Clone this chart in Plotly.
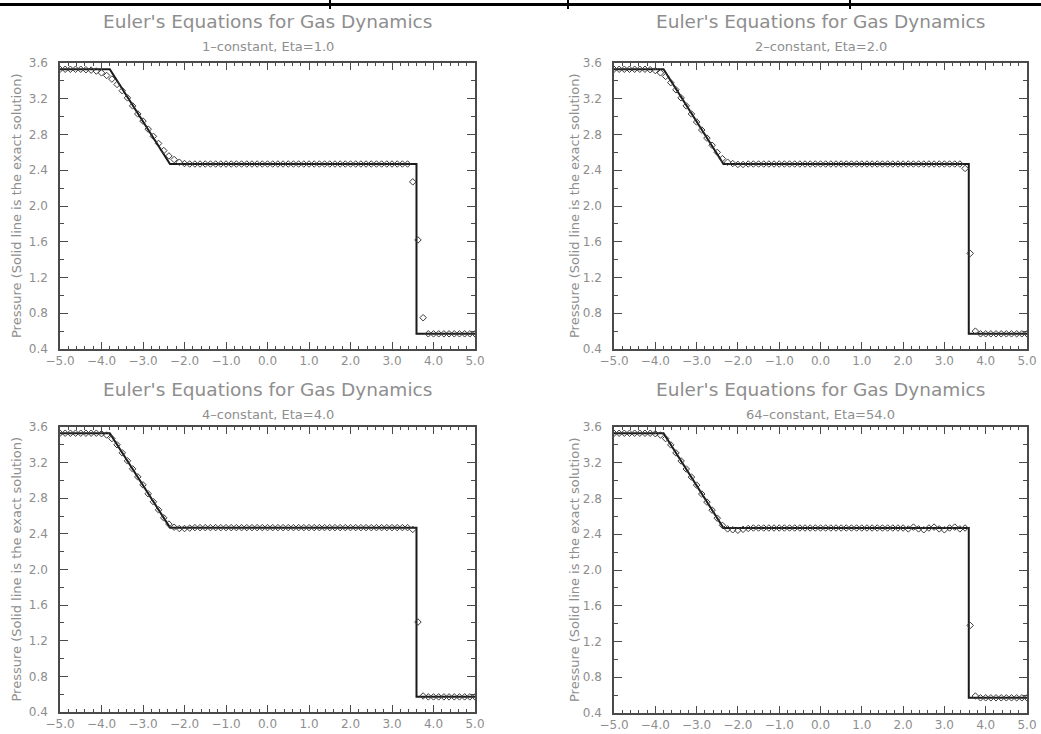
import plotly.graph_objects as go

W, H = 1041, 734

# ---------------- data ----------------
GRID_X = [-5.0, -4.875, -4.75, -4.625, -4.5, -4.375, -4.25, -4.125, -4.0, -3.875,
          -3.75, -3.625, -3.5, -3.375, -3.25, -3.125, -3.0, -2.875, -2.75, -2.625,
          -2.5, -2.375, -2.25, -2.125, -2.0, -1.875, -1.75, -1.625, -1.5, -1.375,
          -1.25, -1.125, -1.0, -0.875, -0.75, -0.625, -0.5, -0.375, -0.25, -0.125,
          0.0, 0.125, 0.25, 0.375, 0.5, 0.625, 0.75, 0.875, 1.0, 1.125,
          1.25, 1.375, 1.5, 1.625, 1.75, 1.875, 2.0, 2.125, 2.25, 2.375,
          2.5, 2.625, 2.75, 2.875, 3.0, 3.125, 3.25, 3.375, 3.5, 3.625,
          3.75, 3.875, 4.0, 4.125, 4.25, 4.375, 4.5, 4.625, 4.75, 4.875, 5.0]

P_ETA1 = [3.53, 3.53, 3.53, 3.53, 3.53, 3.525, 3.52, 3.51, 3.49, 3.46,
          3.42, 3.36, 3.29, 3.21, 3.12, 3.03, 2.95, 2.86, 2.78, 2.70,
          2.62, 2.56, 2.52, 2.49, 2.475, 2.47, 2.47, 2.47, 2.47, 2.47,
          2.47, 2.47, 2.47, 2.47, 2.47, 2.47, 2.47, 2.47, 2.47, 2.47,
          2.47, 2.47, 2.47, 2.47, 2.47, 2.47, 2.47, 2.47, 2.47, 2.47,
          2.47, 2.47, 2.47, 2.47, 2.47, 2.47, 2.47, 2.47, 2.47, 2.47,
          2.47, 2.47, 2.47, 2.47, 2.47, 2.47, 2.47, 2.47, 2.27, 1.62,
          0.75, 0.57, 0.57, 0.57, 0.57, 0.57, 0.57, 0.57, 0.57, 0.57, 0.57]

P_ETA2 = [3.53, 3.53, 3.53, 3.53, 3.53, 3.53, 3.53, 3.525, 3.515, 3.49,
          3.45, 3.38, 3.30, 3.21, 3.12, 3.03, 2.94, 2.85, 2.76, 2.68,
          2.60, 2.53, 2.49, 2.475, 2.465, 2.465, 2.47, 2.47, 2.47, 2.47,
          2.47, 2.47, 2.47, 2.47, 2.47, 2.47, 2.47, 2.47, 2.47, 2.47,
          2.47, 2.47, 2.47, 2.47, 2.47, 2.47, 2.47, 2.47, 2.47, 2.47,
          2.47, 2.47, 2.47, 2.47, 2.47, 2.47, 2.47, 2.47, 2.47, 2.47,
          2.47, 2.47, 2.47, 2.47, 2.47, 2.47, 2.47, 2.47, 2.42, 1.47,
          0.60, 0.57, 0.57, 0.57, 0.57, 0.57, 0.57, 0.57, 0.57, 0.57, 0.57]

P_ETA4 = [3.53, 3.53, 3.53, 3.53, 3.53, 3.53, 3.53, 3.53, 3.525, 3.51,
          3.47, 3.40, 3.31, 3.22, 3.13, 3.04, 2.95, 2.85, 2.76, 2.67,
          2.58, 2.51, 2.475, 2.46, 2.46, 2.465, 2.47, 2.47, 2.47, 2.47,
          2.47, 2.47, 2.47, 2.47, 2.47, 2.47, 2.47, 2.47, 2.47, 2.47,
          2.47, 2.47, 2.47, 2.47, 2.47, 2.47, 2.47, 2.47, 2.47, 2.47,
          2.47, 2.47, 2.47, 2.47, 2.47, 2.47, 2.47, 2.47, 2.47, 2.47,
          2.47, 2.47, 2.47, 2.47, 2.47, 2.47, 2.47, 2.47, 2.45, 1.41,
          0.58, 0.57, 0.57, 0.57, 0.57, 0.57, 0.57, 0.57, 0.57, 0.57, 0.57]

P_ETA54 = [3.53, 3.53, 3.53, 3.53, 3.53, 3.53, 3.53, 3.53, 3.525, 3.51,
           3.47, 3.40, 3.31, 3.22, 3.13, 3.04, 2.95, 2.85, 2.76, 2.67,
           2.58, 2.50, 2.46, 2.45, 2.445, 2.455, 2.465, 2.47, 2.47, 2.47,
           2.47, 2.47, 2.47, 2.47, 2.47, 2.47, 2.47, 2.47, 2.47, 2.47,
           2.47, 2.47, 2.47, 2.47, 2.47, 2.47, 2.47, 2.47, 2.47, 2.47,
           2.47, 2.47, 2.47, 2.47, 2.47, 2.47, 2.47, 2.46, 2.48, 2.46,
           2.45, 2.47, 2.48, 2.46, 2.45, 2.47, 2.48, 2.46, 2.47, 1.38,
           0.59, 0.57, 0.57, 0.57, 0.57, 0.57, 0.57, 0.57, 0.57, 0.57, 0.57]

EXACT_X = [-5.0, -3.8, -2.35, 3.59, 3.59, 5.0]
EXACT_P = [3.53, 3.53, 2.47, 2.47, 0.57, 0.57]

SUBTITLES = ["1\u2013constant, Eta=1.0", "2\u2013constant, Eta=2.0",
             "4\u2013constant, Eta=4.0", "64\u2013constant, Eta=54.0"]
SERIES = [P_ETA1, P_ETA2, P_ETA4, P_ETA54]
MAIN_TITLE = "Euler's Equations for Gas Dynamics"
Y_TITLE = "Pressure (Solid line is the exact solution)"
X_RANGE = [-5.0, 5.0]
Y_RANGE = [0.4, 3.6]

# ---------------- layout (pixel boxes) ----------------
# (left, right, top, bottom) in pixels
BOXES = [(60, 475, 63, 349), (614, 1027, 63, 349),
         (60, 475, 427, 712), (614, 1027, 427, 713)]
TITLE_Y = [21, 21, 389, 389]
SUB_Y = [46, 46, 414, 414]
YTITLE_X = [16, 574, 16, 574]

TXT = "#8e8e8e"
AX = "#4a4a4a"
FONT = "DejaVu Sans"

fig = go.Figure()
layout = dict(width=W, height=H, margin=dict(l=0, r=0, t=0, b=0),
              paper_bgcolor="white", plot_bgcolor="white", showlegend=False,
              font=dict(family=FONT, color=TXT))
annotations = []
for k in range(4):
    l, r, t, b = BOXES[k]
    sx = "" if k == 0 else str(k + 1)
    xa, ya = "x" + sx, "y" + sx
    fig.add_trace(go.Scatter(x=EXACT_X, y=EXACT_P, mode="lines",
                             line=dict(color="#1a1a1a", width=2),
                             xaxis=xa, yaxis=ya, hoverinfo="skip"))
    fig.add_trace(go.Scatter(x=GRID_X, y=SERIES[k], mode="markers",
                             marker=dict(symbol="diamond-open", size=5,
                                         color="#3a3a3a", line=dict(width=1)),
                             xaxis=xa, yaxis=ya))
    layout["xaxis" + sx] = dict(
        domain=[l / W, r / W], anchor=ya, range=X_RANGE, dtick=1.0, tick0=-5.0,
        tickformat=".1f", ticks="inside", ticklen=7, tickwidth=1, tickcolor=AX,
        mirror="ticks", showline=True, linecolor=AX, linewidth=1.5,
        showgrid=False, zeroline=False, automargin=False, ticklabeloverflow="allow",
        tickfont=dict(size=12, color=TXT, family=FONT),
        minor=dict(dtick=0.2, ticks="inside", ticklen=3, tickcolor=AX, showgrid=False))
    layout["yaxis" + sx] = dict(
        domain=[1 - b / H, 1 - t / H], anchor=xa, range=Y_RANGE, dtick=0.4, tick0=0.4,
        tickformat=".1f", ticks="inside", ticklen=8, tickwidth=1, tickcolor=AX,
        mirror="ticks", showline=True, linecolor=AX, linewidth=1.5,
        showgrid=False, zeroline=False, automargin=False, ticklabelstandoff=8,
        ticklabeloverflow="allow",
        tickfont=dict(size=12, color=TXT, family=FONT),
        minor=dict(dtick=0.2, ticks="inside", ticklen=4, tickcolor=AX, showgrid=False))
    cx = (l + r) / 2 / W
    annotations.append(dict(text=MAIN_TITLE, x=cx, y=1 - TITLE_Y[k] / H, xref="paper",
                            yref="paper", showarrow=False, xanchor="center",
                            yanchor="middle", font=dict(size=18.5, color=TXT)))
    annotations.append(dict(text=SUBTITLES[k], x=cx, y=1 - SUB_Y[k] / H, xref="paper",
                            yref="paper", showarrow=False, xanchor="center",
                            yanchor="middle", font=dict(size=13, color=TXT)))
    annotations.append(dict(text=Y_TITLE, x=YTITLE_X[k] / W, y=1 - ((t + b) / 2) / H,
                            xref="paper", yref="paper", showarrow=False, textangle=-90,
                            xanchor="center", yanchor="middle",
                            font=dict(size=13, color=TXT)))

layout["annotations"] = annotations
shapes = [dict(type="line", xref="paper", yref="paper", x0=0, x1=1,
               y0=1 - 4.5 / H, y1=1 - 4.5 / H, line=dict(color="black", width=3))]
for vx in [330, 568, 850]:
    shapes.append(dict(type="line", xref="paper", yref="paper", x0=vx / W, x1=vx / W,
                       y0=1, y1=1 - 9 / H, line=dict(color="black", width=2)))
layout["shapes"] = shapes
fig.update_layout(**layout)

fig.write_html("out.html", config={"displayModeBar": False},
               post_script="document.body.style.margin='0';document.body.style.overflow='hidden';")
